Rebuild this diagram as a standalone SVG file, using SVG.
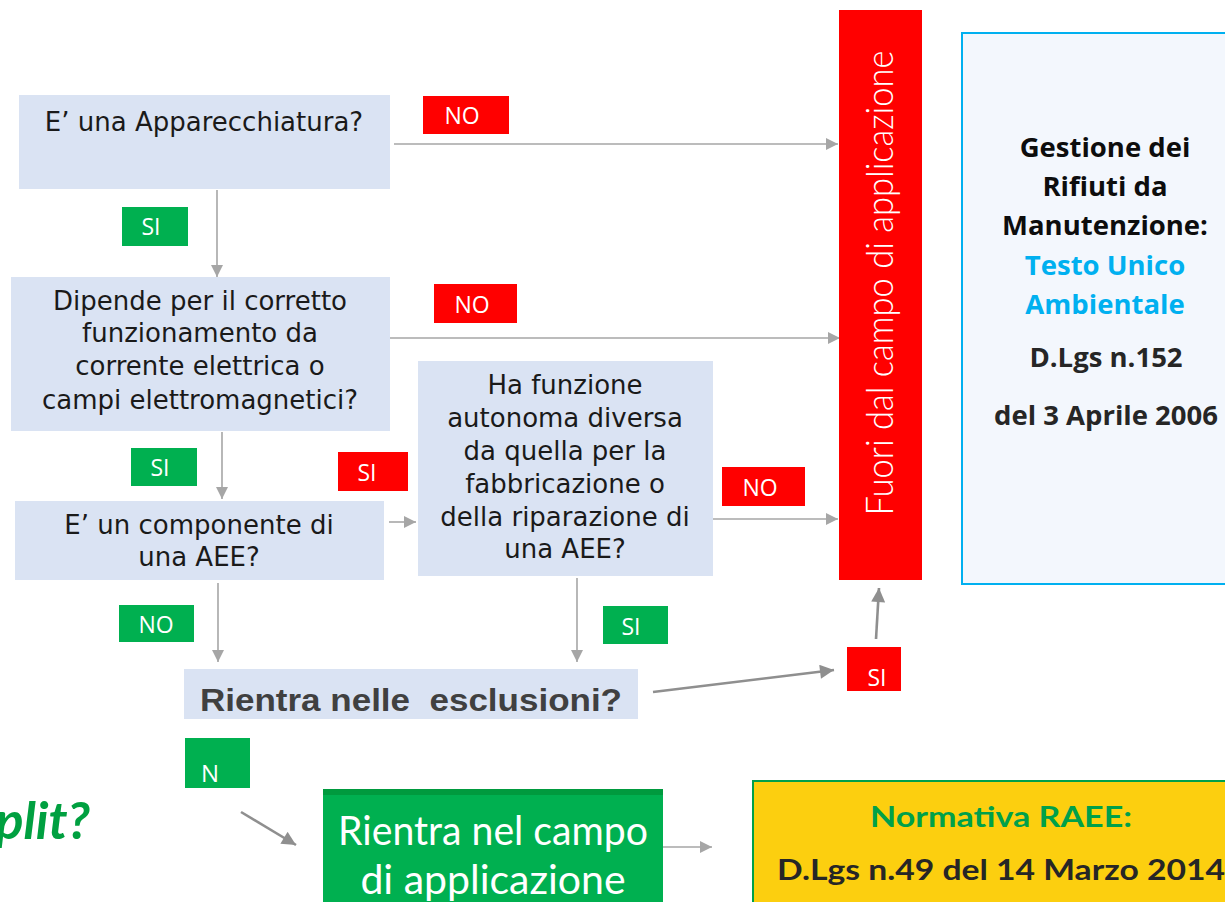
<svg xmlns="http://www.w3.org/2000/svg" width="1225" height="902" viewBox="0 0 1225 902">
<defs>
<marker id="ah" markerUnits="userSpaceOnUse" viewBox="0 0 12 12" refX="12" refY="6" markerWidth="13" markerHeight="12" orient="auto">
<path d="M0,0 L12,6 L0,12 z" fill="#a6a6a6"/>
</marker>
<marker id="ahd" markerUnits="userSpaceOnUse" viewBox="0 0 12 12" refX="12" refY="6" markerWidth="15" markerHeight="14" orient="auto">
<path d="M0,0 L12,6 L0,12 z" fill="#8f8f8f"/>
</marker>
<style>
.q{fill:#dae3f3}
.qt{font-family:"DejaVu Sans",Verdana,sans-serif;font-size:26px;fill:#1a1a1a;text-anchor:middle}
.red{fill:#ff0000}
.grn{fill:#00b050}
.lbl{font-family:"Open Sans","Liberation Sans",sans-serif;font-size:23px;fill:#ffffff;text-anchor:middle}
.c{fill:none;stroke:#a6a6a6;stroke-width:1.6;marker-end:url(#ah)}
.cd{fill:none;stroke:#8f8f8f;stroke-width:2.6;marker-end:url(#ahd)}
.info{font-family:"Open Sans",Lato,sans-serif;font-weight:bold;font-size:27.5px;text-anchor:middle}
</style>
</defs>
<rect width="1225" height="902" fill="#ffffff"/>

<g id="connectors">
<line class="c" x1="394" y1="144" x2="838" y2="144"/>
<line class="c" x1="390" y1="338" x2="840" y2="338"/>
<line class="c" x1="713" y1="519" x2="838" y2="519"/>
<line class="c" x1="217" y1="190" x2="217" y2="277"/>
<line class="c" x1="222" y1="432" x2="222" y2="499"/>
<line class="c" x1="389" y1="522" x2="416" y2="522"/>
<line class="c" x1="218" y1="583" x2="218" y2="662"/>
<line class="c" x1="577" y1="578" x2="577" y2="662"/>
<line class="cd" x1="653" y1="692" x2="834" y2="670"/>
<line class="cd" x1="876" y1="639" x2="879" y2="588"/>
<line class="cd" x1="241" y1="812" x2="296" y2="845"/>
<line class="c" x1="662" y1="847" x2="712" y2="847"/>
</g>

<g id="q1">
<rect class="q" x="19" y="95" width="371" height="94"/>
<text class="qt" x="204" y="131">E’ una Apparecchiatura?</text>
</g>
<g id="q2">
<rect class="q" x="11" y="277" width="379" height="154"/>
<text class="qt" x="200" y="310">Dipende per il corretto</text>
<text class="qt" x="200" y="342">funzionamento da</text>
<text class="qt" x="200" y="375">corrente elettrica o</text>
<text class="qt" x="200" y="409">campi elettromagnetici?</text>
</g>
<g id="q3">
<rect class="q" x="15" y="501" width="369" height="79"/>
<text class="qt" x="199" y="534">E’ un componente di</text>
<text class="qt" x="199" y="566">una AEE?</text>
</g>
<g id="q4">
<rect class="q" x="418" y="361" width="295" height="215"/>
<text class="qt" x="565" y="394">Ha funzione</text>
<text class="qt" x="565" y="427">autonoma diversa</text>
<text class="qt" x="565" y="460">da quella per la</text>
<text class="qt" x="565" y="493">fabbricazione o</text>
<text class="qt" x="565" y="526">della riparazione di</text>
<text class="qt" x="565" y="558">una AEE?</text>
</g>
<g id="q5">
<rect class="q" x="184" y="669" width="454" height="50"/>
<text x="200" y="711" textLength="422" lengthAdjust="spacingAndGlyphs" style="font-family:'Liberation Sans',Arial,sans-serif;font-weight:bold;font-size:32px;fill:#404040;white-space:pre">Rientra nelle  esclusioni?</text>
</g>

<g id="lbl-no1"><rect class="red" x="423" y="96" width="86" height="38"/><text class="lbl" x="462" y="124">NO</text></g>
<g id="lbl-no2"><rect class="red" x="434" y="284" width="83" height="39"/><text class="lbl" x="472" y="313">NO</text></g>
<g id="lbl-no3"><rect class="red" x="722" y="467" width="83" height="39"/><text class="lbl" x="760" y="496">NO</text></g>
<g id="lbl-si1"><rect class="grn" x="122" y="207" width="66" height="39"/><text class="lbl" x="151" y="235">SI</text></g>
<g id="lbl-si2"><rect class="grn" x="131" y="448" width="66" height="38"/><text class="lbl" x="160" y="476">SI</text></g>
<g id="lbl-si3"><rect class="red" x="338" y="452" width="70" height="39"/><text class="lbl" x="367" y="481">SI</text></g>
<g id="lbl-no4"><rect class="grn" x="119" y="605" width="75" height="37"/><text class="lbl" x="156" y="633">NO</text></g>
<g id="lbl-si4"><rect class="grn" x="603" y="606" width="65" height="38"/><text class="lbl" x="631" y="635">SI</text></g>
<g id="lbl-si5"><rect class="red" x="847" y="647" width="54" height="44"/><text class="lbl" x="877" y="686">SI</text></g>
<g id="lbl-n"><rect class="grn" x="185" y="738" width="65" height="50"/><text class="lbl" x="210" y="782" style="font-size:24px">N</text></g>

<g id="fuori">
<rect class="red" x="839" y="10" width="83" height="570"/>
<text transform="translate(893,283) rotate(-90)" x="0" y="0" text-anchor="middle" textLength="465" lengthAdjust="spacingAndGlyphs" style="font-family:Lato,'Open Sans',sans-serif;font-weight:300;font-size:37px;fill:#ffffff">Fuori dal campo di applicazione</text>
</g>

<g id="info">
<rect x="962" y="33" width="270" height="551" fill="#f3f7fd" stroke="#00b0f0" stroke-width="2"/>
<text class="info" x="1105" y="157" fill="#0d0d0d">Gestione dei</text>
<text class="info" x="1105" y="196" fill="#0d0d0d">Rifiuti da</text>
<text class="info" x="1105" y="235" fill="#0d0d0d">Manutenzione:</text>
<text class="info" x="1105" y="275" fill="#00b0f0">Testo Unico</text>
<text class="info" x="1105" y="314" fill="#00b0f0">Ambientale</text>
<text class="info" x="1106" y="367" fill="#262626">D.Lgs n.152</text>
<text class="info" x="1106" y="425" fill="#262626">del 3 Aprile 2006</text>
</g>

<g id="split">
<text x="90" y="839" text-anchor="end" style="font-family:Lato,'Open Sans',sans-serif;font-weight:bold;font-style:italic;font-size:52px;fill:#00a040">Split?</text>
</g>

<g id="campo">
<rect x="323" y="789" width="340" height="120" fill="#00b050"/>
<rect x="323" y="789" width="340" height="6" fill="#009a3e"/>
<text x="493" y="845" text-anchor="middle" textLength="310" lengthAdjust="spacingAndGlyphs" style="font-family:Lato,'Open Sans',sans-serif;font-size:41px;fill:#ffffff">Rientra nel campo</text>
<text x="493" y="894" text-anchor="middle" style="font-family:Lato,'Open Sans',sans-serif;font-size:41px;fill:#ffffff">di applicazione</text>
</g>

<g id="raee">
<rect x="753" y="781" width="480" height="130" fill="#fccf0f" stroke="#00a04a" stroke-width="2"/>
<text x="1001" y="827" text-anchor="middle" textLength="262" lengthAdjust="spacingAndGlyphs" style="font-family:Lato,'Open Sans',sans-serif;font-weight:bold;font-size:28px;fill:#00a04a">Normativa RAEE:</text>
<text x="777" y="880" textLength="448" lengthAdjust="spacingAndGlyphs" style="font-family:Lato,'Open Sans',sans-serif;font-weight:bold;font-size:28px;fill:#262626">D.Lgs n.49 del 14 Marzo 2014</text>
</g>
</svg>
